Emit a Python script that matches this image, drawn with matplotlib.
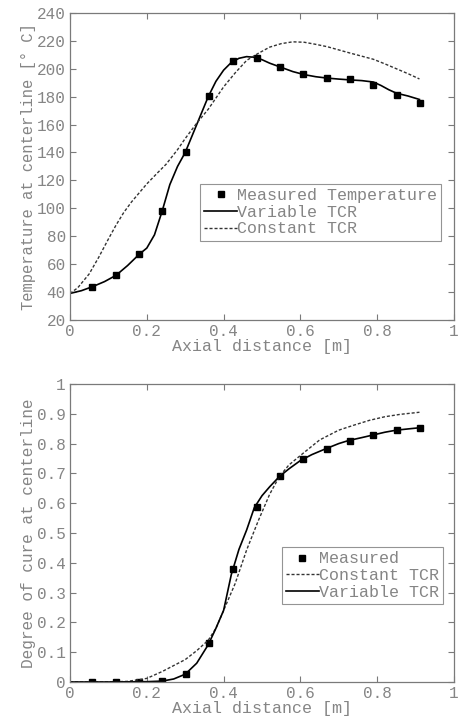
import matplotlib
matplotlib.use("Agg")
import matplotlib.pyplot as plt

# ---------------- Top panel data: temperature ----------------
meas_x = [0.058, 0.119, 0.18, 0.24, 0.301, 0.363, 0.424, 0.486, 0.547, 0.607,
          0.668, 0.729, 0.79, 0.851, 0.911]
meas_T = [43.8, 52.0, 67.2, 98.0, 140.0, 180.5, 205.8, 207.8, 201.5, 196.3,
          193.6, 192.4, 188.4, 181.4, 175.3]

var_x = [0.0, 0.03, 0.06, 0.09, 0.12, 0.15, 0.18, 0.20, 0.22, 0.24, 0.26, 0.28,
         0.30, 0.33, 0.36, 0.38, 0.40, 0.42, 0.44, 0.46, 0.48, 0.50, 0.52, 0.55,
         0.58, 0.61, 0.64, 0.67, 0.70, 0.73, 0.76, 0.79, 0.81, 0.83, 0.85, 0.88, 0.91]
var_T = [39, 41, 44, 47.5, 52, 59, 67, 71.5, 81, 98, 117, 130,
         140, 160, 180, 191, 199, 204.5, 207.5, 208.7, 208.2, 206.5, 204, 201,
         198, 195.8, 194.3, 193.3, 192.6, 192, 191.5, 190.5, 188, 185, 182.5, 180.5, 178]

const_x = [0.0, 0.02, 0.05, 0.075, 0.10, 0.12, 0.14, 0.16, 0.18, 0.20, 0.23, 0.25,
           0.28, 0.30, 0.33, 0.36, 0.40, 0.43, 0.46, 0.49, 0.52, 0.55, 0.58, 0.61,
           0.64, 0.67, 0.70, 0.73, 0.76, 0.79, 0.82, 0.85, 0.88, 0.91]
const_T = [39, 43, 53, 65, 78, 88, 97, 104.5, 111, 117.5, 126, 131.5,
           142, 150, 161, 171, 187, 197, 206, 211, 215.5, 218, 219.3, 219,
           217.5, 215.8, 213.5, 211.2, 209, 206.8, 203.5, 200, 196.5, 192.7]

# ---------------- Bottom panel data: degree of cure ----------------
cure_meas = [0.0, 0.0, 0.001, 0.003, 0.026, 0.132, 0.38, 0.587, 0.691, 0.747,
             0.783, 0.81, 0.829, 0.845, 0.853]

cvar_x = [0.0, 0.1, 0.2, 0.24, 0.27, 0.30, 0.33, 0.36, 0.38, 0.40, 0.42, 0.44,
          0.46, 0.48, 0.50, 0.52, 0.545, 0.57, 0.60, 0.63, 0.665, 0.70, 0.725,
          0.76, 0.79, 0.82, 0.85, 0.88, 0.91]
cvar_y = [0.0, 0.0, 0.001, 0.003, 0.01, 0.026, 0.063, 0.125, 0.18, 0.24, 0.36, 0.445,
          0.51, 0.585, 0.625, 0.655, 0.689, 0.715, 0.743, 0.763, 0.782, 0.80, 0.81,
          0.82, 0.829, 0.838, 0.845, 0.849, 0.853]

cconst_x = [0.0, 0.1, 0.15, 0.2, 0.24, 0.27, 0.30, 0.33, 0.36, 0.38, 0.40, 0.43,
            0.46, 0.49, 0.52, 0.545, 0.57, 0.60, 0.65, 0.70, 0.74, 0.78, 0.82,
            0.86, 0.91]
cconst_y = [0.0, 0.0, 0.002, 0.012, 0.035, 0.055, 0.075, 0.105, 0.14, 0.18, 0.24, 0.33,
            0.443, 0.54, 0.63, 0.689, 0.728, 0.76, 0.812, 0.845, 0.862, 0.878, 0.89,
            0.898, 0.905]

xticks = [0, 0.2, 0.4, 0.6, 0.8, 1]
xtick_labels = ["0", "0.2", "0.4", "0.6", "0.8", "1"]
yticks_T = list(range(20, 241, 20))
yticks_c = [0, 0.1, 0.2, 0.3, 0.4, 0.5, 0.6, 0.7, 0.8, 0.9, 1]
ytick_labels_c = ["0", "0.1", "0.2", "0.3", "0.4", "0.5", "0.6", "0.7", "0.8", "0.9", "1"]

GRAY = "#858585"
SPINE = "#7a7a7a"
plt.rcParams["font.family"] = ["Liberation Mono", "DejaVu Sans Mono"]
plt.rcParams["font.size"] = 11

fig = plt.figure(figsize=(4.62, 7.19), dpi=100)
ax1 = fig.add_axes([0.1515, 0.555, 0.8312, 0.427])
ax2 = fig.add_axes([0.1515, 0.0515, 0.8312, 0.4145])

dash = (0, (2.2, 1.4))

def style(ax):
    for s in ax.spines.values():
        s.set_color(SPINE)
        s.set_linewidth(0.9)
    ax.tick_params(direction="in", length=4, width=0.8, colors=SPINE,
                   labelcolor=GRAY, top=True, right=True, labelsize=11.5, pad=3)
    ax.set_xlim(0, 1)
    ax.set_xticks(xticks)
    ax.set_xticklabels(xtick_labels)
    ax.set_xlabel("Axial distance [m]", color=GRAY, fontsize=12, labelpad=0)

# Top
ax1.plot(meas_x, meas_T, "s", color="black", markersize=3.7, label="Measured Temperature")
ax1.plot(var_x, var_T, "-", color="black", linewidth=1.2, label="Variable TCR")
ax1.plot(const_x, const_T, linestyle=dash, color="#333333", linewidth=1.0, label="Constant TCR")
style(ax1)
ax1.set_ylim(20, 240)
ax1.set_yticks(yticks_T)
ax1.set_ylabel("Temperature at centerline [° C]", color=GRAY, fontsize=11.2, labelpad=1)
leg1 = ax1.legend(loc="upper left", bbox_to_anchor=(0.338, 0.443), frameon=True,
                  fancybox=False, edgecolor=SPINE, fontsize=12, handlelength=2.0,
                  handletextpad=0.0, borderpad=0.25, labelspacing=0.1, borderaxespad=0)
leg1.get_frame().set_linewidth(0.8)
for t in leg1.get_texts():
    t.set_color(GRAY)

# Bottom
ax2.plot(meas_x, cure_meas, "s", color="black", markersize=3.7, label="Measured")
ax2.plot(cconst_x, cconst_y, linestyle=dash, color="#333333", linewidth=1.0, label="Constant TCR")
ax2.plot(cvar_x, cvar_y, "-", color="black", linewidth=1.2, label="Variable TCR")
style(ax2)
ax2.set_ylim(0, 1)
ax2.set_yticks(yticks_c)
ax2.set_yticklabels(ytick_labels_c)
ax2.set_ylabel("Degree of cure at centerline", color=GRAY, fontsize=11.6, labelpad=1)
leg2 = ax2.legend(loc="upper left", bbox_to_anchor=(0.551, 0.452), frameon=True,
                  fancybox=False, edgecolor=SPINE, fontsize=12, handlelength=2.0,
                  handletextpad=0.0, borderpad=0.25, labelspacing=0.1, borderaxespad=0)
leg2.get_frame().set_linewidth(0.8)
for t in leg2.get_texts():
    t.set_color(GRAY)

fig.savefig("out.png", dpi=100, facecolor="white")
